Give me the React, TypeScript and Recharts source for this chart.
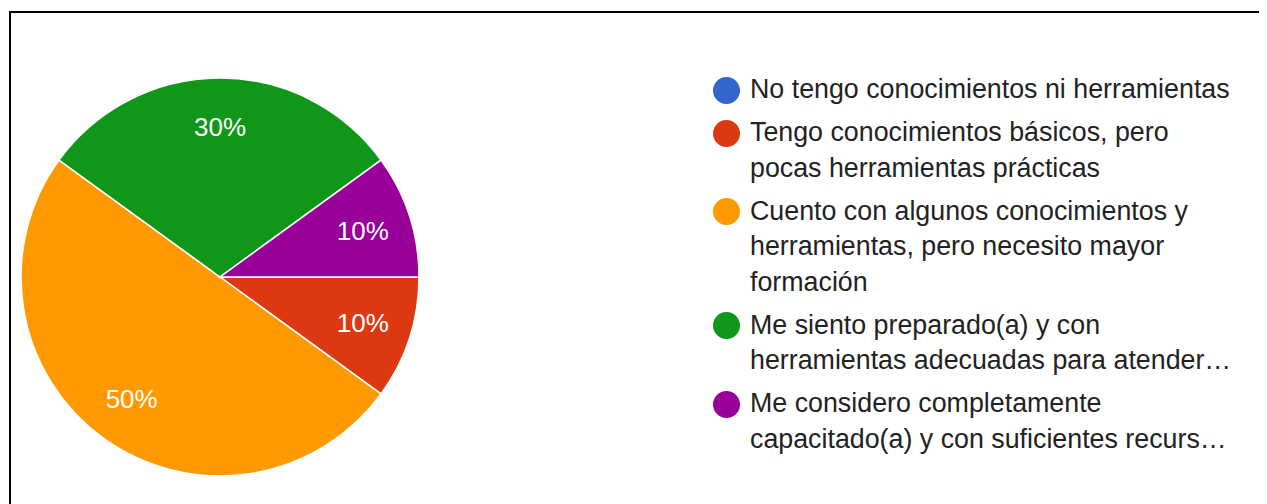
import React from 'react';
import { PieChart, Pie, Cell, Legend } from 'recharts';

const categories = [
  'No tengo conocimientos ni herramientas',
  'Tengo conocimientos básicos, pero pocas herramientas prácticas',
  'Cuento con algunos conocimientos y herramientas, pero necesito mayor formación',
  'Me siento preparado(a) y con herramientas adecuadas para atender la diversidad',
  'Me considero completamente capacitado(a) y con suficientes recursos',
];
const values = [0, 1, 5, 3, 1];
const colors = ['#3366cc', '#dc3912', '#ff9900', '#109618', '#990099'];
const legendLines = [
  ['No tengo conocimientos ni herramientas'],
  ['Tengo conocimientos básicos, pero', 'pocas herramientas prácticas'],
  ['Cuento con algunos conocimientos y', 'herramientas, pero necesito mayor', 'formación'],
  ['Me siento preparado(a) y con', 'herramientas adecuadas para atender…'],
  ['Me considero completamente', 'capacitado(a) y con suficientes recurs…'],
];

const data = categories.map((name, i) => ({ name, value: values[i] }));

const FONT = '"Liberation Sans", Arial, sans-serif';
const RAD = Math.PI / 180;

const renderLabel = (props: any) => {
  const { cx, cy, midAngle, outerRadius, percent, value } = props;
  if (!value) return null;
  const r = outerRadius * 0.755;
  const x = cx + r * Math.cos(-midAngle * RAD);
  const y = cy + r * Math.sin(-midAngle * RAD);
  return (
    <text
      x={x}
      y={y}
      fill="#ffffff"
      fontSize={26}
      fontFamily={FONT}
      textAnchor="middle"
      dominantBaseline="central"
    >
      {`${Math.round(percent * 100)}%`}
    </text>
  );
};

const LINE_H = 35.5;
const ITEM_GAP = 43;
const FIRST_CENTER = 30;
const DOT = 27;

const renderLegend = () => {
  let center = FIRST_CENTER;
  const items: React.ReactNode[] = [];
  legendLines.forEach((lines, i) => {
    const start = center;
    items.push(
      <div
        key={`dot-${i}`}
        style={{
          position: 'absolute',
          left: 8,
          top: start - DOT / 2,
          width: DOT,
          height: DOT,
          borderRadius: '50%',
          background: colors[i],
        }}
      />
    );
    lines.forEach((ln, j) => {
      items.push(
        <div
          key={`t-${i}-${j}`}
          style={{
            position: 'absolute',
            left: 45,
            top: start + j * LINE_H - LINE_H / 2,
            height: LINE_H,
            lineHeight: `${LINE_H}px`,
            fontSize: 26.8,
            fontFamily: FONT,
            color: '#222222',
            whiteSpace: 'nowrap',
          }}
        >
          {ln}
        </div>
      );
    });
    center = start + (lines.length - 1) * LINE_H + ITEM_GAP;
  });
  return <div style={{ position: 'relative', width: 560, height: 420 }}>{items}</div>;
};

export default function App() {
  return (
    <div
      style={{
        position: 'relative',
        width: 1259,
        height: 496,
        overflow: 'hidden',
        background: '#ffffff',
        fontFamily: FONT,
      }}
    >
      <div
        style={{
          position: 'absolute',
          left: 1,
          top: 3,
          width: 1400,
          height: 600,
          borderTop: '2px solid #000000',
          borderLeft: '2px solid #000000',
          boxSizing: 'border-box',
        }}
      />
      <div style={{ position: 'absolute', left: 0, top: 0 }}>
        <PieChart width={1259} height={496} margin={{ top: 0, right: 0, bottom: 0, left: 0 }}>
          <Pie
            data={data}
            dataKey="value"
            nameKey="name"
            cx={212}
            cy={269}
            outerRadius={199}
            startAngle={0}
            endAngle={-360}
            stroke="#ffffff"
            strokeWidth={1.5}
            label={renderLabel}
            labelLine={false}
            isAnimationActive={false}
          >
            {data.map((d, i) => (
              <Cell key={d.name} fill={colors[i]} />
            ))}
          </Pie>
          <Legend
            layout="vertical"
            align="right"
            verticalAlign="top"
            content={renderLegend}
            wrapperStyle={{ position: 'absolute', left: 697, top: 52, width: 560, height: 420, right: 'auto' }}
          />
        </PieChart>
      </div>
    </div>
  );
}
